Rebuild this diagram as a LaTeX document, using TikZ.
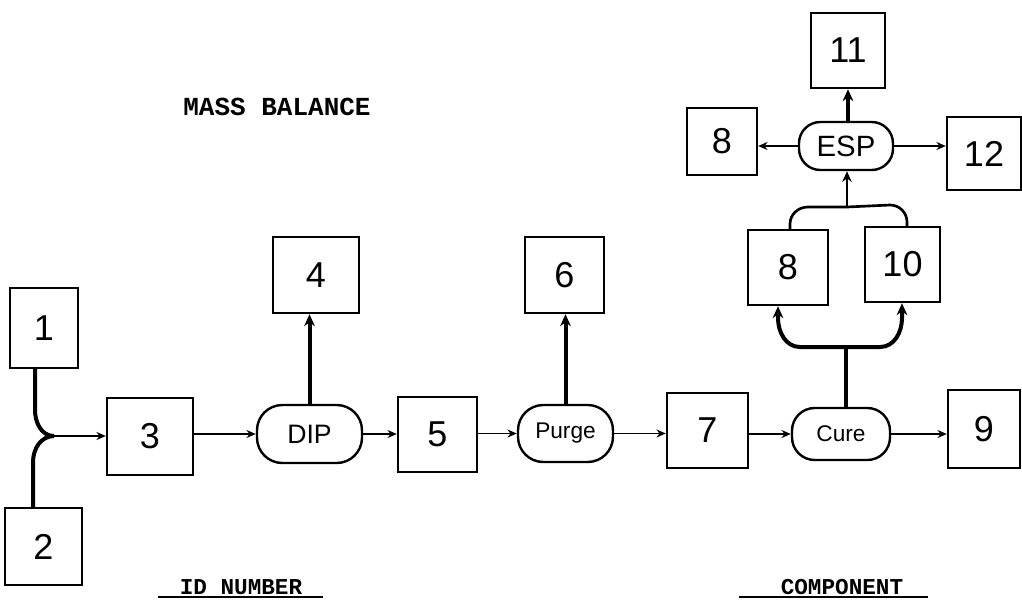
\documentclass[tikz,border=0pt]{standalone}
\usepackage{fontspec}
\setmainfont{Liberation Sans}
\newfontfamily\typew{Liberation Mono}
\usetikzlibrary{arrows.meta}
\tikzset{
  x=0.75pt, y=-0.75pt,
  bsize/.style 2 args={minimum width=#1*0.75pt, minimum height=#2*0.75pt},
  box/.style={draw, line width=1.8pt, inner sep=0pt, font=\fontsize{27}{27}\selectfont},
  proc/.style={draw, line width=1.8pt, inner sep=0pt, rounded corners=15pt, font=\fontsize{20}{20}\selectfont},
  thin/.style={line width=1.2pt, -{Stealth[length=7pt,width=6pt]}},
  thick/.style={line width=3pt, -{Stealth[length=9pt,width=8pt]}},
  thickl/.style={line width=3pt},
  typed/.style={font=\typew\bfseries\fontsize{17}{17}\selectfont, inner sep=0pt},
  uline/.style={line width=1.3pt}
}
\begin{document}
\begin{tikzpicture}
\useasboundingbox (0,0) rectangle (1022,604);
% boxes
\node[box, bsize={68}{80}] (b1) at (44,328) {1};
\node[box, bsize={77}{77}] (b2) at (43.5,546.5) {2};
\node[box, bsize={86}{77}] (b3) at (150,436.5) {3};
\node[box, bsize={86}{76}] (b4) at (316,275) {4};
\node[box, bsize={79}{75}] (b5) at (437.5,434.5) {5};
\node[box, bsize={79}{76}] (b6) at (564.5,275) {6};
\node[box, bsize={81}{75}] (b7) at (707.5,430.5) {7};
\node[box, bsize={72}{78}] (b9) at (984,429) {9};
\node[box, bsize={80}{75}] (b8b) at (788,267.5) {8};
\node[box, bsize={75}{75}] (b10) at (902.5,264.5) {10};
\node[box, bsize={74}{75}] (b11) at (848,50.5) {11};
\node[box, bsize={70}{67}] (b8t) at (722,141.5) {8};
\node[box, bsize={74}{73}] (b12) at (984,153.5) {12};
% process ovals
\node[proc, bsize={105}{58}, rounded corners=19pt] (dip) at (309.5,434) {DIP};
\node[proc, bsize={95}{57}, rounded corners=19pt, font=\fontsize{17}{17}\selectfont] (purge) at (565.5,433.5) {Purge};
\node[proc, bsize={98}{52}, rounded corners=17pt, font=\fontsize{17}{17}\selectfont] (cure) at (841,434) {Cure};
\node[proc, bsize={94}{48}, rounded corners=16pt, font=\fontsize{22}{22}\selectfont] (esp) at (846,146) {ESP};
% junction of 1 and 2
\coordinate (j12) at (54,436);
\draw[thickl] (b1.south -| 35,0) -- (35,410) to[out=-90,in=180] (j12);
\draw[thickl] (b2.north -| 33,0) -- (33,462) to[out=90,in=180] (j12);
\draw[thin] (j12) -- (b3.west |- j12);
% main line
\draw[thin] (b3.east |- dip) -- (dip.west);
\draw[thin] (dip.east) -- (b5.west |- dip);
\draw[thin] (b5.east |- purge) -- (purge.west);
\draw[thin] (purge.east) -- (b7.west |- purge);
\draw[thin] (b7.east |- cure) -- (cure.west);
\draw[thin] (cure.east) -- (b9.west |- cure);
% vertical outputs
\draw[thick] (dip.north) -- (b4.south -| dip.north);
\draw[thick] (purge.north) -- (b6.south -| purge.north);
% cure split
\coordinate (split) at (846,347);
\draw[thickl] (cure.north -| split) -- (split);
\draw[thick] (split) -- (800,347) to[out=180,in=-90] (778,318) -- (b8b.south -| 778,0);
\draw[thick] (split) -- (880,347) to[out=0,in=-90] (902,318) -- (b10.south -| 902,0);
% join to ESP
\coordinate (join) at (847,207);
\draw[line width=2pt] (b8b.north -| 790,0) -- (790,224) to[out=90,in=180] (808,207) -- (join);
\draw[line width=2pt] (b10.north -| 907,0) -- (907,222) to[out=90,in=0] (890,205) -- (join);
\draw[line width=2pt, -{Stealth[length=8pt,width=7pt]}] (join) -- (esp.south -| join);
% ESP outputs
\draw[thick] (esp.north -| b11) -- (b11.south);
\draw[thin] (esp.west) -- (b8t.east |- esp.west);
\draw[thin] (esp.east) -- (b12.west |- esp.east);
% texts
\node[typed, font=\typew\bfseries\fontsize{19.5}{19.5}\selectfont, anchor=base] (title) at (277,115) {MASS BALANCE};
\node[typed, anchor=base] (idn) at (241,594) {ID NUMBER};
\node[typed, anchor=base] (comp) at (842,594) {COMPONENT};
\coordinate (u1a) at (158,597); \coordinate (u1b) at (323,597);
\coordinate (u2a) at (739,597); \coordinate (u2b) at (928,597);
\draw[uline] (u1a) -- (u1b);
\draw[uline] (u2a) -- (u2b);
\end{tikzpicture}
\end{document}
